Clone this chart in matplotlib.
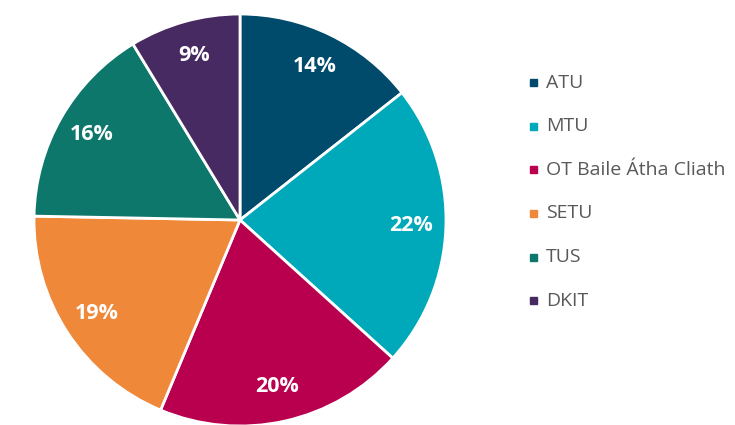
import matplotlib.pyplot as plt
from matplotlib.patches import Rectangle
import numpy as np

labels = ['ATU', 'MTU', 'OT Baile Átha Cliath', 'SETU', 'TUS', 'DKIT']
shares = [14.4, 22.3, 19.6, 19.0, 16.0, 8.7]
colors = ['#004b6b', '#00a9ba', '#b8004f', '#f0883a', '#0e776c', '#482a62']

plt.rcParams['font.family'] = ['Open Sans', 'DejaVu Sans']

fig = plt.figure(figsize=(7.35, 4.25), dpi=100)
# pie centre at (240, 220) px, radius 206 px
ax = fig.add_axes([34 / 735, (425 - 220 - 206) / 425, 412 / 735, 412 / 425])
wedges, texts = ax.pie(shares, colors=colors, startangle=90, counterclock=False,
                       radius=1.0,
                       wedgeprops=dict(edgecolor='white', linewidth=2))
ax.set_xlim(-1, 1)
ax.set_ylim(-1, 1)
ax.set_aspect('auto')

# percentage labels
ang = 90.0
for s in shares:
    mid = np.deg2rad(ang - s * 3.6 / 2)
    ax.text(0.83 * np.cos(mid), 0.83 * np.sin(mid), f'{round(s)}%', color='white',
            fontsize=15.5, fontweight='bold', ha='center', va='center')
    ang -= s * 3.6

# legend
y0 = 82.7
for i, (lab, c) in enumerate(zip(labels, colors)):
    y = (425 - (y0 + i * 43.6)) / 425
    fig.patches.append(Rectangle((530 / 735, y - 3.5 / 425), 7 / 735, 7 / 425,
                                 color=c, transform=fig.transFigure))
    fig.text(546 / 735, y, lab, fontsize=14, color='#595959', va='center', ha='left')

fig.savefig('out.png', dpi=100)
